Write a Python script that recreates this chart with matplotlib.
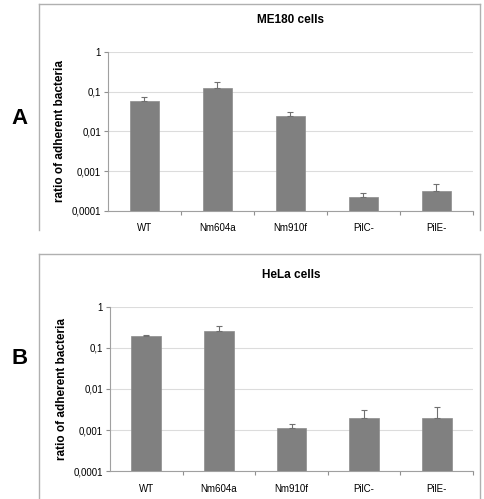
import numpy as np
import matplotlib.pyplot as plt
from matplotlib.lines import Line2D

plt.rcParams['font.family'] = ['Liberation Sans', 'DejaVu Sans']

strains = ['WT', 'Nm604a', 'Nm910f', 'PilC-', 'PilE-']
yticks = [1e-4, 1e-3, 1e-2, 1e-1, 1]
ylabels = ['0,0001', '0,001', '0,01', '0,1', '1']

me180 = [0.060, 0.126, 0.025, 0.00022, 0.00031]
me180_err = [0.013, 0.045, 0.006, 0.00007, 0.00017]
hela = [0.197, 0.265, 0.0011, 0.00195, 0.00195]
hela_err = [0.006, 0.080, 0.00029, 0.00105, 0.0016]

fig = plt.figure(figsize=(4.84, 4.99), dpi=100)

panels = [
    ('A', 'ME180 cells', me180, me180_err, [0.2231, 0.5772, 0.7541, 0.3186], 4, 230, 118),
    ('B', 'HeLa cells', hela, hela_err, [0.2273, 0.0561, 0.75, 0.3287], 254, 499, 358),
]

for letter, title, vals, errs, pos, btop, bbot, ly in panels:
    # frame around each panel
    x0, x1 = 39 / 484, 480 / 484
    y0, y1 = 1 - bbot / 499, 1 - btop / 499
    for xs, ys in [([x0, x0], [y0, y1]), ([x0, x1], [y1, y1]), ([x1, x1], [y1, y0])]:
        fig.add_artist(Line2D(xs, ys, color='#b0b0b0', lw=1.0, transform=fig.transFigure))

    ax = fig.add_axes(pos)
    x = np.arange(len(strains))
    base = yticks[0]
    ax.bar(x, np.array(vals) - base, width=0.41, bottom=base, color='#808080',
           edgecolor='#8c8c8c', lw=0.5, zorder=3)
    ax.errorbar(x, vals, yerr=[np.zeros(len(errs)), errs], fmt='none',
                ecolor='#707070', elinewidth=0.8, capsize=2.5, capthick=0.8, zorder=4)
    ax.set_yscale('log')
    ax.set_ylim(1e-4, 1)
    ax.set_xlim(-0.5, len(strains) - 0.5)
    ax.set_yticks(yticks)
    ax.set_yticklabels(ylabels)
    ax.minorticks_off()
    ax.set_xticks(x)
    ax.set_xticklabels(strains)
    ax.set_xticks(np.arange(0.5, len(strains) - 0.5 + 0.01, 1.0), minor=True)
    ax.tick_params(axis='x', which='major', length=0, labelsize=7, pad=9)
    ax.tick_params(axis='x', which='minor', length=3, color='#909090', width=0.8)
    ax.tick_params(axis='y', length=3, color='#909090', width=0.8, labelsize=7, pad=2)
    ax.grid(axis='y', color='#dcdcdc', lw=0.8, zorder=0)
    for s in ['top', 'right']:
        ax.spines[s].set_visible(False)
    for s in ['left', 'bottom']:
        ax.spines[s].set_color('#a0a0a0')
        ax.spines[s].set_linewidth(0.8)
    ax.set_ylabel('ratio of adherent bacteria', fontsize=8.5, fontweight='bold', labelpad=4)
    ax.set_title(title, fontsize=8.5, fontweight='bold', pad=21)
    fig.text(20 / 484, 1 - ly / 499, letter, fontsize=16, fontweight='bold',
             ha='center', va='center')

fig.savefig('out.png', dpi=100)
